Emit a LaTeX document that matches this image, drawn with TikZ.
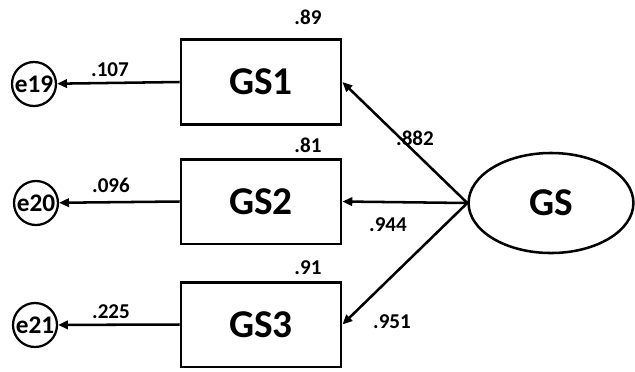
\documentclass[tikz,border=0pt]{standalone}
\usepackage{fontspec}
\setmainfont{Carlito}
\usetikzlibrary{arrows.meta,shapes.geometric}

\begin{document}
\begin{tikzpicture}[x=0.025cm, y=-0.025cm, every node/.style={font=\bfseries},
    obs/.style={draw, line width=2pt, minimum width=4cm, minimum height=2.12cm, font=\fontsize{28}{30}\selectfont\bfseries},
    err/.style={draw, circle, line width=1.6pt, minimum size=1.1cm, inner sep=0pt, font=\fontsize{18}{20}\selectfont\bfseries},
    coef/.style={font=\fontsize{15}{17}\selectfont\bfseries},
    load/.style={-{Triangle[length=7pt,width=6pt]}, line width=1.8pt}]
    \useasboundingbox (0,0) rectangle (635,371);

    % observed items
    \node[obs] (GS1) at (261,82) {GS1};
    \node[obs] (GS2) at (261,201.5) {GS2};
    \node[obs] (GS3) at (261,324.5) {GS3};

    % latent factor
    \node[draw, ellipse, line width=1.8pt, minimum width=4.12cm, minimum height=2.5cm,
          font=\fontsize{28}{30}\selectfont\bfseries] (GS) at (551,203) {GS};

    % error terms
    \node[err] (e19) at (34,84) {e19};
    \node[err] (e20) at (36,203) {e20};
    \node[err] (e21) at (35,325) {e21};

    \draw[load] (GS1.west) -- (e19);
    \draw[load] (GS2.west) -- (e20);
    \draw[load] (GS3.west) -- (e21);

    \draw[load] (GS.west) -- (GS1.east);
    \draw[load] (GS.west) -- (GS2.east);
    \draw[load] (GS.west) -- (GS3.east);

    % estimates
    \node[coef] (r1) at (308,17) {.89};
    \node[coef] (r2) at (308,145) {.81};
    \node[coef] (r3) at (308,268) {.91};
    \node[coef] (w1) at (110,70) {.107};
    \node[coef] (w2) at (111,185) {.096};
    \node[coef] (w3) at (111,312) {.225};
    \node[coef] (l1) at (415,138) {.882};
    \node[coef] (l2) at (388,225) {.944};
    \node[coef] (l3) at (392,322) {.951};
\end{tikzpicture}
\end{document}
